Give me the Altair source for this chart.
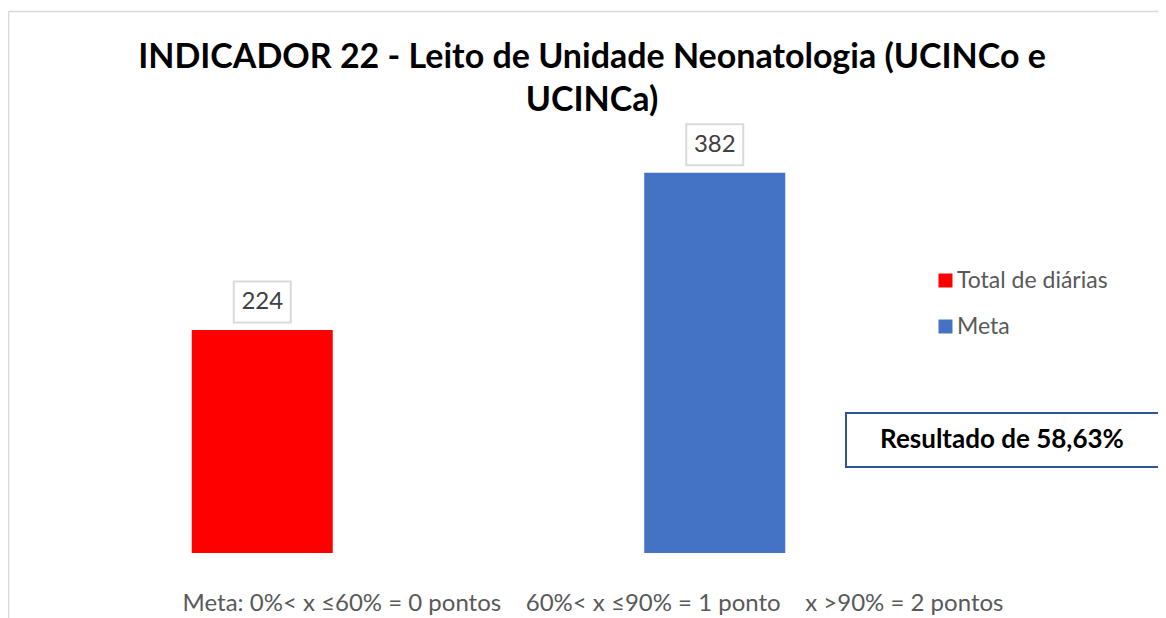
import altair as alt
import pandas as pd

# ---- data ----
categories = ["Total de diárias", "Meta"]
values = [224, 382]
colors = ["#FF0000", "#4472C4"]
title_lines = ["INDICADOR 22 - Leito de Unidade Neonatologia (UCINCo e", "UCINCa)"]
result_text = ["Resultado de 58,63%"]
footer_text = ["Meta: 0%< x \u226460% = 0 pontos \u00a0\u00a0\u00a060%< x \u226490% = 1 ponto \u00a0\u00a0\u00a0x >90% = 2 pontos"]

df = pd.DataFrame({"serie": categories, "valor": values})

FONT = "Lato"
W, H = 905, 448

x = alt.X("serie:N", sort=categories, axis=None,
          scale=alt.Scale(paddingInner=0, paddingOuter=0))
y = alt.Y("valor:Q", axis=None, scale=alt.Scale(domain=[0, 450], nice=False))

bars = alt.Chart(df).mark_bar(size=141).encode(
    x=x, y=y,
    color=alt.Color("serie:N", sort=categories,
                    scale=alt.Scale(domain=categories, range=colors),
                    legend=alt.Legend(title=None, orient="none", legendX=898, legendY=164,
                                      symbolType="square", symbolSize=196,
                                      symbolStrokeWidth=0,
                                      labelFont=FONT, labelFontSize=23, labelColor="#595959",
                                      rowPadding=22, labelOffset=0))
)

box_shape = "M-1,-0.72L1,-0.72L1,0.72L-1,0.72Z"
label_boxes = alt.Chart(df).mark_point(
    shape=box_shape, size=3249, filled=False, fill="white", fillOpacity=1,
    stroke="#D9D9D9", strokeWidth=2, opacity=1, yOffset=-28
).encode(x=x, y=y)

label_text = alt.Chart(df).mark_text(
    font=FONT, fontSize=24, color="#404040", baseline="middle", yOffset=-28
).encode(x=x, y=y, text=alt.Text("valor:Q"))

title_df = pd.DataFrame({"t": ["\n".join(title_lines)]})
title = alt.Chart(title_df).mark_text(
    font=FONT, fontSize=34, fontWeight="bold", color="black", align="center",
    baseline="top", lineHeight=43, lineBreak="\n"
).encode(x=alt.value(556), y=alt.value(-64), text="t:N")

res_df = pd.DataFrame({"t": result_text})
res_box = alt.Chart(res_df).mark_rect(
    fill="white", stroke="#2F5597", strokeWidth=2
).encode(x=alt.value(810), x2=alt.value(1123), y=alt.value(308), y2=alt.value(362))
res_text = alt.Chart(res_df).mark_text(
    font=FONT, fontSize=26, fontWeight="bold", color="black", baseline="middle", align="center"
).encode(x=alt.value(966), y=alt.value(335), text="t:N")

foot_df = pd.DataFrame({"t": footer_text})
footer = alt.Chart(foot_df).mark_text(
    font=FONT, fontSize=24, color="#595959", baseline="middle", align="center"
).encode(x=alt.value(557), y=alt.value(499), text="t:N")

border_top = alt.Chart(foot_df).mark_rule(color="#D9D9D9", strokeWidth=1.5).encode(
    x=alt.value(-27.5), x2=alt.value(1130), y=alt.value(-93.5))
border_left = alt.Chart(foot_df).mark_rule(color="#D9D9D9", strokeWidth=1.5).encode(
    x=alt.value(-27.5), y=alt.value(-93.5), y2=alt.value(540))

chart = alt.layer(
    border_top, border_left, title, bars, label_boxes, label_text, res_box, res_text, footer
).properties(
    width=W, height=H,
    padding={"left": 28, "top": 97, "right": 217, "bottom": 80},
    autosize=alt.AutoSizeParams(type="none")
).configure(background="white").configure_view(stroke=None)

chart.save("out.html", embed_options={"renderer": "svg", "actions": False})
